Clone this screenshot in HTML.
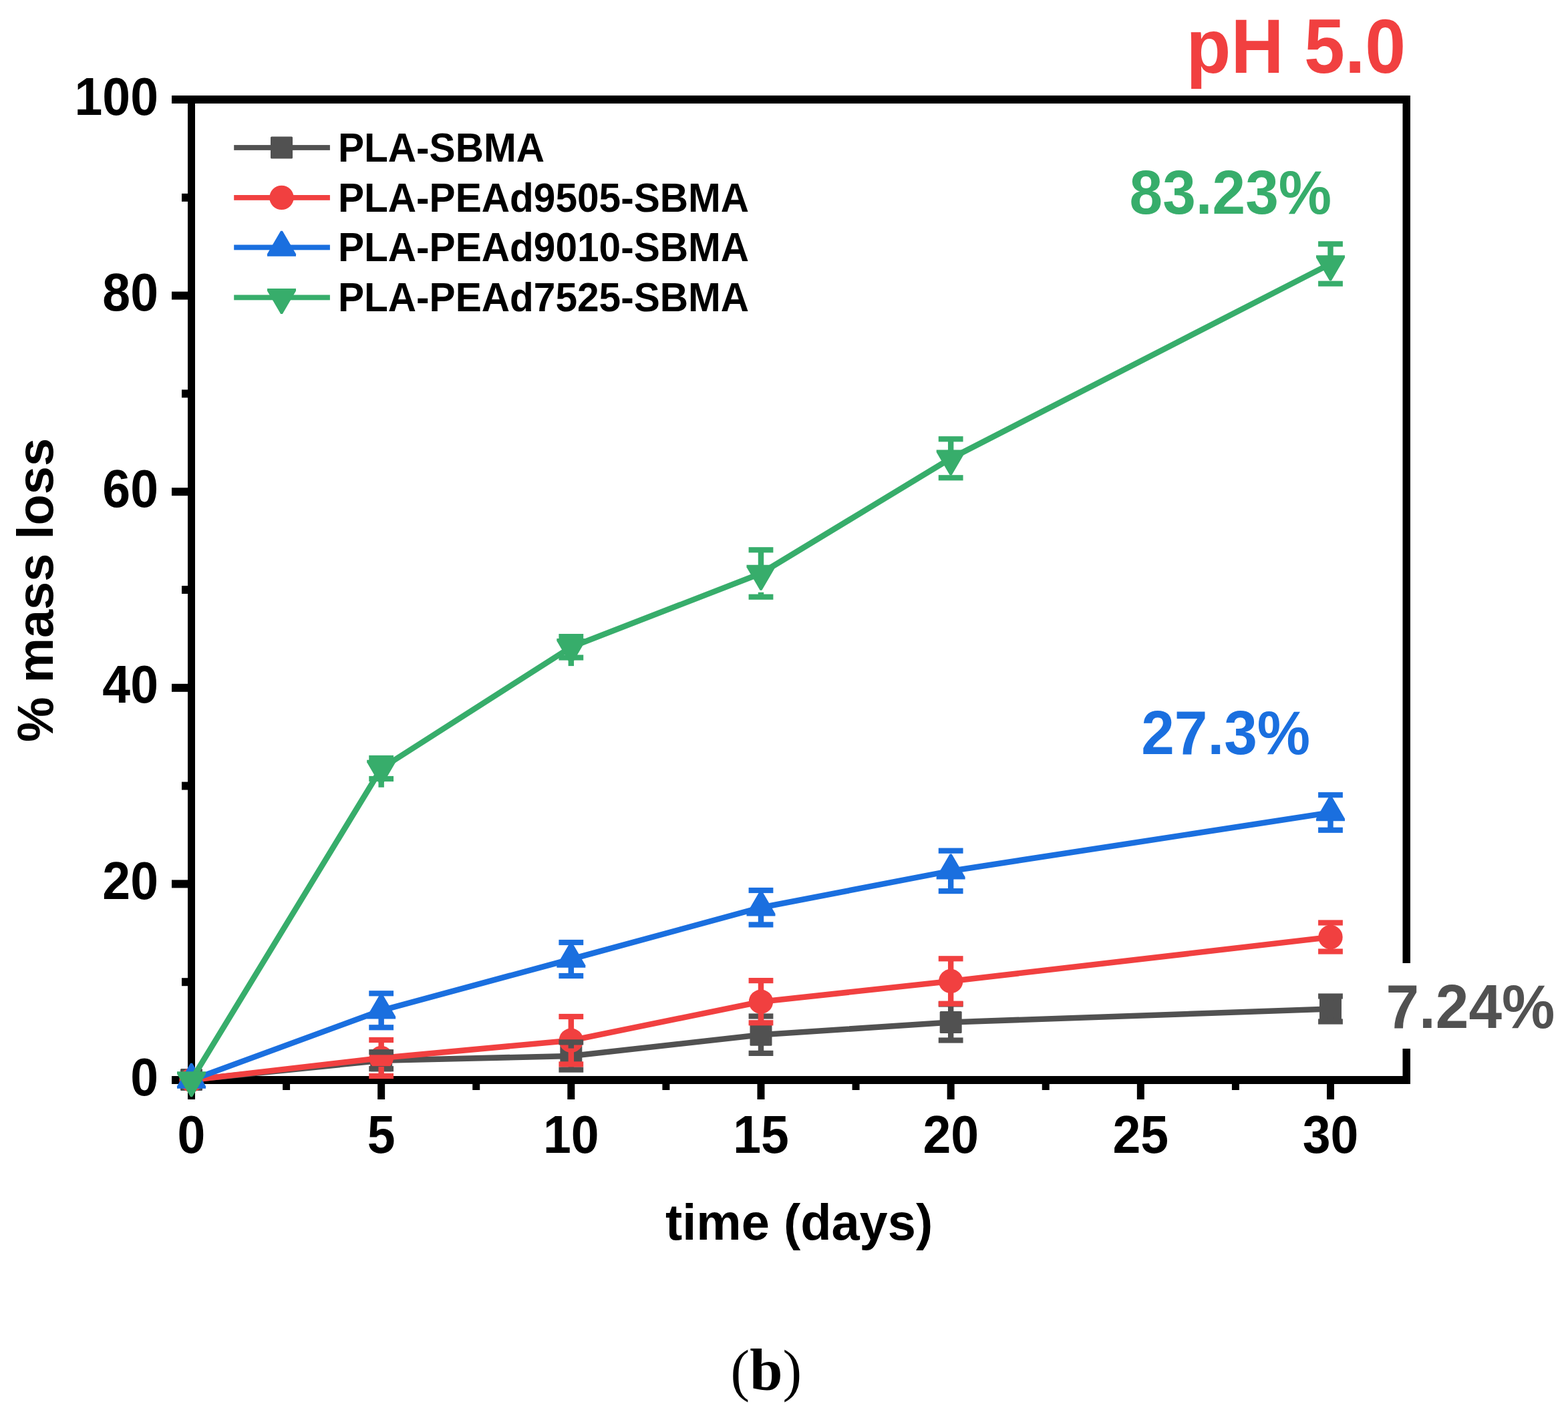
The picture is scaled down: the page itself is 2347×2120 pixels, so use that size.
<!DOCTYPE html>
<html><head><meta charset="utf-8"><title>pH 5.0 mass loss</title>
<style>
html,body{margin:0;padding:0;background:#fff;}
body{width:2347px;height:2120px;overflow:hidden;}
svg{display:block;}
.t{font-family:"Liberation Sans",Arial,sans-serif;font-weight:bold;font-kerning:none;}
.s{font-kerning:none;}
.s{font-family:"Liberation Serif","Times New Roman",serif;}
</style></head><body>
<svg width="2347" height="2120" viewBox="0 0 2347 2120">
<rect width="2347" height="2120" fill="#fff"/>
<rect x="257" y="143" width="1854" height="12" fill="#000"/>
<rect x="257" y="1611" width="1854" height="12" fill="#000"/>
<rect x="281" y="143" width="11" height="1503" fill="#000"/>
<rect x="2099.5" y="143" width="11.5" height="1480" fill="#000"/>
<rect x="272" y="1464.20" width="15" height="12" fill="#000"/>
<rect x="257" y="1317.40" width="30" height="12" fill="#000"/>
<rect x="272" y="1170.60" width="15" height="12" fill="#000"/>
<rect x="257" y="1023.80" width="30" height="12" fill="#000"/>
<rect x="272" y="877.00" width="15" height="12" fill="#000"/>
<rect x="257" y="730.20" width="30" height="12" fill="#000"/>
<rect x="272" y="583.40" width="15" height="12" fill="#000"/>
<rect x="257" y="436.60" width="30" height="12" fill="#000"/>
<rect x="272" y="289.80" width="15" height="12" fill="#000"/>
<rect x="423.08" y="1615" width="11" height="17" fill="#000"/>
<rect x="565.16" y="1615" width="11" height="31" fill="#000"/>
<rect x="707.25" y="1615" width="11" height="17" fill="#000"/>
<rect x="849.33" y="1615" width="11" height="31" fill="#000"/>
<rect x="991.41" y="1615" width="11" height="17" fill="#000"/>
<rect x="1133.49" y="1615" width="11" height="31" fill="#000"/>
<rect x="1275.58" y="1615" width="11" height="17" fill="#000"/>
<rect x="1417.66" y="1615" width="11" height="31" fill="#000"/>
<rect x="1559.74" y="1615" width="11" height="17" fill="#000"/>
<rect x="1701.83" y="1615" width="11" height="31" fill="#000"/>
<rect x="1843.91" y="1615" width="11" height="17" fill="#000"/>
<rect x="1985.99" y="1615" width="11" height="31" fill="#000"/>
<rect x="2090" y="1442" width="30" height="128" fill="#fff"/>
<polyline points="286.50,1616.50 570.66,1587.70 854.83,1581.00 1138.99,1549.20 1423.16,1530.50 1991.49,1510.50" fill="none" stroke="#515151" stroke-width="8.6" stroke-linejoin="round"/>
<rect x="270.00" y="1600.00" width="33" height="33" rx="1.5" fill="#515151"/>
<rect x="554.16" y="1571.20" width="33" height="33" rx="1.5" fill="#515151"/>
<rect x="838.33" y="1564.50" width="33" height="33" rx="1.5" fill="#515151"/>
<rect x="1122.49" y="1532.70" width="33" height="33" rx="1.5" fill="#515151"/>
<rect x="1406.66" y="1514.00" width="33" height="33" rx="1.5" fill="#515151"/>
<rect x="1974.99" y="1494.00" width="33" height="33" rx="1.5" fill="#515151"/>
<polyline points="286.50,1617.00 570.66,1584.00 854.83,1557.70 1138.99,1499.70 1423.16,1469.00 1991.49,1403.00" fill="none" stroke="#F14040" stroke-width="8.6" stroke-linejoin="round"/>
<circle cx="286.50" cy="1617.00" r="18.2" fill="#F14040"/>
<circle cx="570.66" cy="1584.00" r="18.2" fill="#F14040"/>
<circle cx="854.83" cy="1557.70" r="18.2" fill="#F14040"/>
<circle cx="1138.99" cy="1499.70" r="18.2" fill="#F14040"/>
<circle cx="1423.16" cy="1469.00" r="18.2" fill="#F14040"/>
<circle cx="1991.49" cy="1403.00" r="18.2" fill="#F14040"/>
<polyline points="286.50,1617.00 570.66,1512.80 854.83,1436.00 1138.99,1358.70 1423.16,1303.90 1991.49,1216.50" fill="none" stroke="#1A6FDF" stroke-width="8.6" stroke-linejoin="round"/>
<polygon points="285.10,1591.70 287.90,1591.70 308.00,1626.20 308.00,1629.70 265.00,1629.70 265.00,1626.20" fill="#1A6FDF"/>
<polygon points="569.26,1487.50 572.06,1487.50 592.16,1522.00 592.16,1525.50 549.16,1525.50 549.16,1522.00" fill="#1A6FDF"/>
<polygon points="853.43,1410.70 856.23,1410.70 876.33,1445.20 876.33,1448.70 833.33,1448.70 833.33,1445.20" fill="#1A6FDF"/>
<polygon points="1137.59,1333.40 1140.39,1333.40 1160.49,1367.90 1160.49,1371.40 1117.49,1371.40 1117.49,1367.90" fill="#1A6FDF"/>
<polygon points="1421.76,1278.60 1424.56,1278.60 1444.66,1313.10 1444.66,1316.60 1401.66,1316.60 1401.66,1313.10" fill="#1A6FDF"/>
<polygon points="1990.09,1191.20 1992.89,1191.20 2012.99,1225.70 2012.99,1229.20 1969.99,1229.20 1969.99,1225.70" fill="#1A6FDF"/>
<polyline points="286.50,1617.00 570.66,1150.50 854.83,968.80 1138.99,858.50 1423.16,686.30 1991.49,395.00" fill="none" stroke="#37AD6B" stroke-width="8.6" stroke-linejoin="round"/>
<polygon points="265.00,1604.30 308.00,1604.30 308.00,1607.80 287.90,1642.30 285.10,1642.30 265.00,1607.80" fill="#37AD6B"/>
<polygon points="549.16,1137.80 592.16,1137.80 592.16,1141.30 572.06,1175.80 569.26,1175.80 549.16,1141.30" fill="#37AD6B"/>
<polygon points="833.33,956.10 876.33,956.10 876.33,959.60 856.23,994.10 853.43,994.10 833.33,959.60" fill="#37AD6B"/>
<polygon points="1117.49,845.80 1160.49,845.80 1160.49,849.30 1140.39,883.80 1137.59,883.80 1117.49,849.30" fill="#37AD6B"/>
<polygon points="1401.66,673.60 1444.66,673.60 1444.66,677.10 1424.56,711.60 1421.76,711.60 1401.66,677.10" fill="#37AD6B"/>
<polygon points="1969.99,382.30 2012.99,382.30 2012.99,385.80 1992.89,420.30 1990.09,420.30 1969.99,385.80" fill="#37AD6B"/>

<rect x="566.46" y="1575.20" width="8.4" height="1.00" fill="#515151"/><rect x="566.46" y="1599.20" width="8.4" height="1.00" fill="#515151"/><rect x="552.26" y="1571.10" width="36.8" height="8.2" fill="#515151"/><rect x="552.26" y="1596.10" width="36.8" height="8.2" fill="#515151"/>
<rect x="850.63" y="1560.40" width="8.4" height="9.10" fill="#515151"/><rect x="850.63" y="1592.50" width="8.4" height="9.10" fill="#515151"/><rect x="836.43" y="1556.30" width="36.8" height="8.2" fill="#515151"/><rect x="836.43" y="1597.50" width="36.8" height="8.2" fill="#515151"/>
<rect x="1134.79" y="1521.50" width="8.4" height="16.20" fill="#515151"/><rect x="1134.79" y="1560.70" width="8.4" height="16.20" fill="#515151"/><rect x="1120.59" y="1517.40" width="36.8" height="8.2" fill="#515151"/><rect x="1120.59" y="1572.80" width="36.8" height="8.2" fill="#515151"/>
<rect x="1418.96" y="1503.50" width="8.4" height="15.50" fill="#515151"/><rect x="1418.96" y="1542.00" width="8.4" height="15.50" fill="#515151"/><rect x="1404.76" y="1499.40" width="36.8" height="8.2" fill="#515151"/><rect x="1404.76" y="1553.40" width="36.8" height="8.2" fill="#515151"/>
<rect x="1987.29" y="1491.50" width="8.4" height="7.50" fill="#515151"/><rect x="1987.29" y="1522.00" width="8.4" height="7.50" fill="#515151"/><rect x="1973.09" y="1487.40" width="36.8" height="8.2" fill="#515151"/><rect x="1973.09" y="1525.40" width="36.8" height="8.2" fill="#515151"/>

<rect x="566.46" y="1557.00" width="8.4" height="14.00" fill="#F14040"/><rect x="566.46" y="1597.00" width="8.4" height="14.00" fill="#F14040"/><rect x="552.26" y="1552.90" width="36.8" height="8.2" fill="#F14040"/><rect x="552.26" y="1606.90" width="36.8" height="8.2" fill="#F14040"/>
<rect x="850.63" y="1522.00" width="8.4" height="22.70" fill="#F14040"/><rect x="850.63" y="1570.70" width="8.4" height="22.70" fill="#F14040"/><rect x="836.43" y="1517.90" width="36.8" height="8.2" fill="#F14040"/><rect x="836.43" y="1589.30" width="36.8" height="8.2" fill="#F14040"/>
<rect x="1134.79" y="1468.10" width="8.4" height="18.60" fill="#F14040"/><rect x="1134.79" y="1512.70" width="8.4" height="18.60" fill="#F14040"/><rect x="1120.59" y="1464.00" width="36.8" height="8.2" fill="#F14040"/><rect x="1120.59" y="1527.20" width="36.8" height="8.2" fill="#F14040"/>
<rect x="1418.96" y="1435.30" width="8.4" height="20.70" fill="#F14040"/><rect x="1418.96" y="1482.00" width="8.4" height="20.70" fill="#F14040"/><rect x="1404.76" y="1431.20" width="36.8" height="8.2" fill="#F14040"/><rect x="1404.76" y="1498.60" width="36.8" height="8.2" fill="#F14040"/>
<rect x="1987.29" y="1381.50" width="8.4" height="8.50" fill="#F14040"/><rect x="1987.29" y="1416.00" width="8.4" height="8.50" fill="#F14040"/><rect x="1973.09" y="1377.40" width="36.8" height="8.2" fill="#F14040"/><rect x="1973.09" y="1420.40" width="36.8" height="8.2" fill="#F14040"/>

<rect x="566.46" y="1484.50" width="8.4" height="2.80" fill="#1A6FDF"/><rect x="566.46" y="1524.30" width="8.4" height="14.00" fill="#1A6FDF"/><rect x="552.26" y="1483.20" width="36.8" height="8.2" fill="#1A6FDF"/><rect x="552.26" y="1534.20" width="36.8" height="8.2" fill="#1A6FDF"/>
<rect x="850.63" y="1407.70" width="8.4" height="3.30" fill="#1A6FDF"/><rect x="850.63" y="1447.50" width="8.4" height="13.50" fill="#1A6FDF"/><rect x="836.43" y="1406.90" width="36.8" height="8.2" fill="#1A6FDF"/><rect x="836.43" y="1456.90" width="36.8" height="8.2" fill="#1A6FDF"/>
<rect x="1134.79" y="1330.40" width="8.4" height="2.60" fill="#1A6FDF"/><rect x="1134.79" y="1370.20" width="8.4" height="14.20" fill="#1A6FDF"/><rect x="1120.59" y="1328.90" width="36.8" height="8.2" fill="#1A6FDF"/><rect x="1120.59" y="1380.30" width="36.8" height="8.2" fill="#1A6FDF"/>
<rect x="1418.96" y="1273.70" width="8.4" height="1.90" fill="#1A6FDF"/><rect x="1418.96" y="1315.40" width="8.4" height="18.70" fill="#1A6FDF"/><rect x="1404.76" y="1269.60" width="36.8" height="8.2" fill="#1A6FDF"/><rect x="1404.76" y="1330.00" width="36.8" height="8.2" fill="#1A6FDF"/>
<rect x="1987.29" y="1188.20" width="8.4" height="2.00" fill="#1A6FDF"/><rect x="1987.29" y="1228.00" width="8.4" height="14.80" fill="#1A6FDF"/><rect x="1973.09" y="1186.10" width="36.8" height="8.2" fill="#1A6FDF"/><rect x="1973.09" y="1238.70" width="36.8" height="8.2" fill="#1A6FDF"/>

<rect x="566.46" y="1135.00" width="8.4" height="4.00" fill="#37AD6B"/><rect x="566.46" y="1166.00" width="8.4" height="12.80" fill="#37AD6B"/><rect x="552.26" y="1130.90" width="36.8" height="8.2" fill="#37AD6B"/><rect x="552.26" y="1161.90" width="36.8" height="8.2" fill="#37AD6B"/>
<rect x="850.63" y="953.10" width="8.4" height="4.20" fill="#37AD6B"/><rect x="850.63" y="984.50" width="8.4" height="12.60" fill="#37AD6B"/><rect x="836.43" y="949.00" width="36.8" height="8.2" fill="#37AD6B"/><rect x="836.43" y="980.40" width="36.8" height="8.2" fill="#37AD6B"/>
<rect x="1134.79" y="823.30" width="8.4" height="23.70" fill="#37AD6B"/><rect x="1134.79" y="886.80" width="8.4" height="6.90" fill="#37AD6B"/><rect x="1120.59" y="819.20" width="36.8" height="8.2" fill="#37AD6B"/><rect x="1120.59" y="889.60" width="36.8" height="8.2" fill="#37AD6B"/>
<rect x="1418.96" y="657.30" width="8.4" height="17.50" fill="#37AD6B"/><rect x="1418.96" y="714.60" width="8.4" height="0.70" fill="#37AD6B"/><rect x="1404.76" y="653.20" width="36.8" height="8.2" fill="#37AD6B"/><rect x="1404.76" y="711.20" width="36.8" height="8.2" fill="#37AD6B"/>
<rect x="1987.29" y="365.30" width="8.4" height="18.20" fill="#37AD6B"/><rect x="1987.29" y="423.30" width="8.4" height="1.40" fill="#37AD6B"/><rect x="1973.09" y="361.20" width="36.8" height="8.2" fill="#37AD6B"/><rect x="1973.09" y="420.60" width="36.8" height="8.2" fill="#37AD6B"/>
<text class="t" transform="translate(237,1639.6) scale(1,1.048)" font-size="75.2" text-anchor="end">0</text>
<text class="t" transform="translate(237,1346.0) scale(1,1.048)" font-size="75.2" text-anchor="end">20</text>
<text class="t" transform="translate(237,1052.4) scale(1,1.048)" font-size="75.2" text-anchor="end">40</text>
<text class="t" transform="translate(237,758.8) scale(1,1.048)" font-size="75.2" text-anchor="end">60</text>
<text class="t" transform="translate(237,465.2) scale(1,1.048)" font-size="75.2" text-anchor="end">80</text>
<text class="t" transform="translate(237,171.6) scale(1,1.048)" font-size="75.2" text-anchor="end">100</text>
<text class="t" transform="translate(286.5,1726) scale(1,1.048)" font-size="75.2" text-anchor="middle">0</text>
<text class="t" transform="translate(570.7,1726) scale(1,1.048)" font-size="75.2" text-anchor="middle">5</text>
<text class="t" transform="translate(854.8,1726) scale(1,1.048)" font-size="75.2" text-anchor="middle">10</text>
<text class="t" transform="translate(1139.0,1726) scale(1,1.048)" font-size="75.2" text-anchor="middle">15</text>
<text class="t" transform="translate(1423.2,1726) scale(1,1.048)" font-size="75.2" text-anchor="middle">20</text>
<text class="t" transform="translate(1707.3,1726) scale(1,1.048)" font-size="75.2" text-anchor="middle">25</text>
<text class="t" transform="translate(1991.5,1726) scale(1,1.048)" font-size="75.2" text-anchor="middle">30</text>
<text class="t" x="996.0" y="1855.9" font-size="75.8">time (days)</text>
<text class="t" transform="translate(79.4,1110.9) rotate(-90)" x="0" y="0" font-size="75.8">% mass loss</text>
<rect x="350.2" y="217.1" width="143.7" height="7.8" fill="#515151"/>
<rect x="405.00" y="204.50" width="33" height="33" rx="1.5" fill="#515151"/>
<text class="t" transform="translate(505.9,242.1) scale(1,1.042)" font-size="58.6">PLA-SBMA</text>
<rect x="350.2" y="292.0" width="143.7" height="7.8" fill="#F14040"/>
<circle cx="421.50" cy="295.90" r="18.2" fill="#F14040"/>
<text class="t" transform="translate(505.9,317.1) scale(1,1.042)" font-size="58.6">PLA-PEAd9505-SBMA</text>
<rect x="350.2" y="366.5" width="143.7" height="7.8" fill="#1A6FDF"/>
<polygon points="420.10,345.70 422.90,345.70 443.00,380.20 443.00,383.70 400.00,383.70 400.00,380.20" fill="#1A6FDF"/>
<text class="t" transform="translate(505.9,390.7) scale(1,1.042)" font-size="58.6">PLA-PEAd9010-SBMA</text>
<rect x="350.2" y="441.5" width="143.7" height="7.8" fill="#37AD6B"/>
<polygon points="400.00,432.10 443.00,432.10 443.00,435.60 422.90,470.10 420.10,470.10 400.00,435.60" fill="#37AD6B"/>
<text class="t" transform="translate(505.9,465.7) scale(1,1.042)" font-size="58.6">PLA-PEAd7525-SBMA</text>
<text class="t" transform="translate(1775.6,109.4) scale(1,1.055)" font-size="109.5" fill="#F14040">pH 5.0</text>
<text class="t" transform="translate(1690.6,319.7) scale(1,1.04)" font-size="89.2" fill="#37AD6B">83.23%</text>
<text class="t" transform="translate(1708.2,1128.8) scale(1,1.04)" font-size="89.2" fill="#1A6FDF">27.3%</text>
<text class="t" transform="translate(2074.4,1538.6) scale(1,1.045)" font-size="89.2" fill="#515151">7.24%</text>
<text class="s" x="1093.6" y="2080.9" font-size="85.9">(<tspan font-weight="bold" font-size="88.5">b</tspan>)</text>
</svg>
</body></html>
